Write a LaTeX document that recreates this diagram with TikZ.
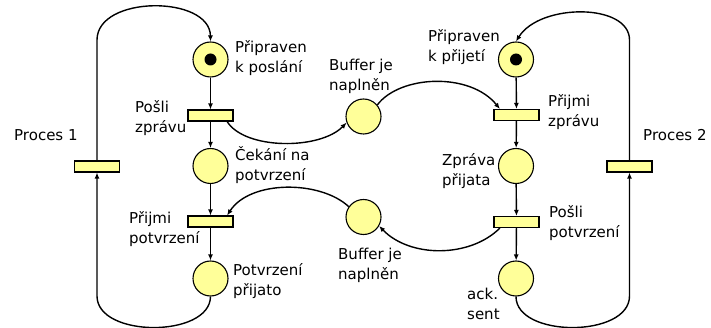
\documentclass[tikz,border=0pt]{standalone}
\usepackage{fontspec}
\setmainfont{DejaVu Sans}
\usetikzlibrary{arrows.meta}
\definecolor{pfill}{HTML}{FFFF99}
\begin{document}
\begin{tikzpicture}[x=1pt,y=-1pt,
  place/.style={circle,draw=black,fill=pfill,line width=1.1pt,minimum size=35pt,inner sep=0pt},
  trans/.style={rectangle,draw=black,fill=pfill,line width=1.1pt,minimum width=45pt,minimum height=11pt,inner sep=0pt},
  token/.style={circle,fill=black,minimum size=12pt,inner sep=0pt},
  arc/.style={line width=1.4pt,-{Latex[length=6pt,width=5pt]}},
  lbl/.style={anchor=base west,inner sep=0pt,font=\fontsize{15}{20}\selectfont}]
\useasboundingbox (0,0) rectangle (711,328);
% left process
\node[place] (p1) at (210.5,59.5) {};
\node[token] (tk1) at (p1.center) {};
\node[trans] (tsend) at (210.5,115.5) {};
\node[place] (pwait) at (210.5,166) {};
\node[trans] (trecvack) at (210.5,221.5) {};
\node[place] (pack) at (210.5,278.5) {};
\node[trans] (proc1) at (97,166.5) {};
% right process
\node[place] (q1) at (516,59.5) {};
\node[token] (tk2) at (q1.center) {};
\node[trans] (trecv) at (516.5,115) {};
\node[place] (qgot) at (516,166) {};
\node[trans] (tsendack) at (516.5,222) {};
\node[place] (qsent) at (516,278.5) {};
\node[trans] (proc2) at (629.5,166.5) {};
% buffers
\node[place] (b1) at (363.5,116.5) {};
\node[place] (b2) at (363.5,217) {};
% labels
\node[lbl] (l1) at (235,53) {\begin{tabular}[t]{@{}l@{}}Připraven\\k poslání\end{tabular}};
\node[lbl] (l2) at (135,113) {\begin{tabular}[t]{@{}l@{}}Pošli\\zprávu\end{tabular}};
\node[lbl] (l3) at (14,141) {Proces 1};
\node[lbl] (l4) at (235,161) {\begin{tabular}[t]{@{}l@{}}Čekání na\\potvrzení\end{tabular}};
\node[lbl] (l5) at (129,224) {\begin{tabular}[t]{@{}l@{}}Přijmi\\potvrzení\end{tabular}};
\node[lbl] (l6) at (233,276) {\begin{tabular}[t]{@{}l@{}}Potvrzení\\přijato\end{tabular}};
\node[lbl] (l7) at (329,71) {\begin{tabular}[t]{@{}l@{}}Buffer je\\naplněn\end{tabular}};
\node[lbl] (l8) at (338,260) {\begin{tabular}[t]{@{}l@{}}Buffer je\\naplněn\end{tabular}};
\node[lbl] (l9) at (428,42) {\begin{tabular}[t]{@{}l@{}}Připraven\\k přijetí\end{tabular}};
\node[lbl] (l10) at (548,107) {\begin{tabular}[t]{@{}l@{}}Přijmi\\zprávu\end{tabular}};
\node[lbl] (l11) at (643,141) {Proces 2};
\node[lbl] (l12) at (442,166) {\begin{tabular}[t]{@{}l@{}}Zpráva\\přijata\end{tabular}};
\node[lbl] (l13) at (549,218) {\begin{tabular}[t]{@{}l@{}}Pošli\\potvrzení\end{tabular}};
\node[lbl] (l14) at (467,299) {\begin{tabular}[t]{@{}l@{}}ack.\\sent\end{tabular}};
% vertical flow
\draw[arc] (p1) -- (tsend);
\draw[arc] (tsend) -- (pwait);
\draw[arc] (pwait) -- (trecvack);
\draw[arc] (trecvack) -- (pack);
\draw[arc] (q1) -- (trecv);
\draw[arc] (trecv) -- (qgot);
\draw[arc] (qgot) -- (tsendack);
\draw[arc] (tsendack) -- (qsent);
% loops
\draw[arc] (proc1.north) -- (97,40) .. controls (97,-5) and (210,-5) .. (p1.north);
\draw[arc] (pack.south) .. controls (210,338) and (97,338) .. (97,296) -- (proc1.south);
\draw[arc] (proc2.north) -- (629.5,40) .. controls (629.5,3) and (540,3) .. (q1.north);
\draw[arc] (qsent.south) .. controls (516,338) and (629.5,338) .. (629.5,296) -- (proc2.south);
% buffer arcs
\draw[arc] (tsend.-20) .. controls (245,150) and (320,150) .. (b1.200);
\draw[arc] (b1.40) .. controls (400,75) and (470,72) .. (trecv.160);
\draw[arc] (tsendack.200) .. controls (470,258) and (410,258) .. (b2.-30);
\draw[arc] (b2.145) .. controls (320,180) and (250,180) .. (trecvack.20);
\end{tikzpicture}
\end{document}
